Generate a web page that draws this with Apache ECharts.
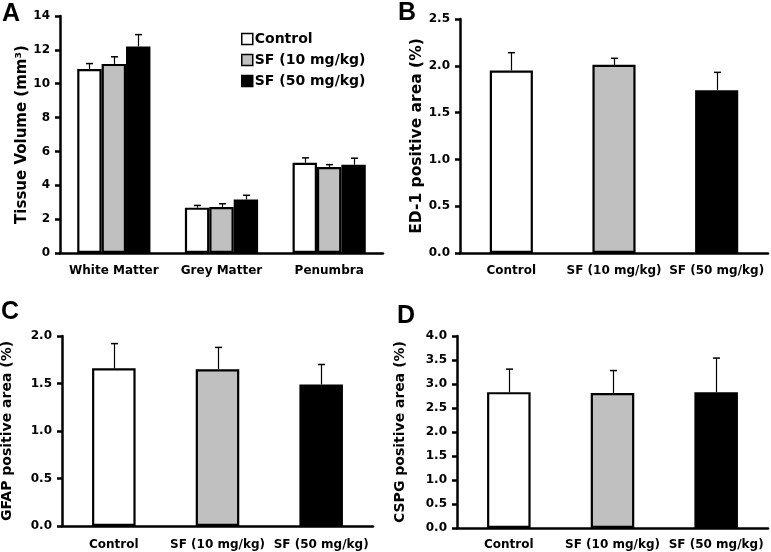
<!DOCTYPE html>
<html>
<head>
<meta charset="utf-8">
<script src="https://cdn.jsdelivr.net/npm/echarts@6/dist/echarts.min.js"></script>
<style>html,body{margin:0;padding:0;background:#fff}#c{width:771px;height:552px}</style>
</head>
<body>
<div id="c"></div>
<script>
// ---- data ----
var regionCats = ['White Matter', 'Grey Matter', 'Penumbra'];
var groupNames = ['Control', 'SF (10 mg/kg)', 'SF (50 mg/kg)'];
var volControl = [10.87, 2.68, 5.33];
var volSF10 = [11.17, 2.71, 5.08];
var volSF50 = [12.2, 3.16, 5.22];
var volControlErr = [0.32, 0.13, 0.29];
var volSF10Err = [0.42, 0.2, 0.14];
var volSF50Err = [0.7, 0.25, 0.38];
var ed1 = [1.95, 2.01, 1.74];
var ed1Err = [0.19, 0.07, 0.19];
var gfap = [1.66, 1.65, 1.49];
var gfapErr = [0.26, 0.23, 0.21];
var cspg = [2.83, 2.81, 2.83];
var cspgErr = [0.48, 0.47, 0.71];

var FONT = 'DejaVu Sans';
var palette = ['#ffffff', '#c0c0c0', '#000000'];
var grids = [
  {left: 60, top: 16, width: 323, height: 237, outerBoundsMode: 'none', containLabel: false},
  {left: 460, top: 19, width: 308, height: 234, outerBoundsMode: 'none', containLabel: false},
  {left: 62, top: 336, width: 311, height: 190, outerBoundsMode: 'none', containLabel: false},
  {left: 457, top: 336, width: 311, height: 192, outerBoundsMode: 'none', containLabel: false}
];
function yAxis(gi, max, interval, name, gap, nameSize) {
  return {
    type: 'value', gridIndex: gi, min: 0, max: max, interval: interval,
    name: name, nameLocation: 'middle', nameGap: gap,
    nameTextStyle: {fontFamily: FONT, fontWeight: 'bold', fontSize: nameSize, color: '#000'},
    axisLine: {show: true, lineStyle: {color: '#000', width: 2.5}},
    axisTick: {show: true, length: 5, lineStyle: {color: '#000', width: 2.5}},
    splitLine: {show: false},
    axisLabel: {margin: 10, fontFamily: FONT, fontWeight: 'bold', fontSize: 12, color: '#000',
      formatter: function (v) { return interval < 1 ? v.toFixed(1) : String(v); }}
  };
}
function xAxis(gi, cats, margin) {
  return {
    type: 'category', gridIndex: gi, data: cats,
    axisLine: {show: true, lineStyle: {color: '#000', width: 2.5}},
    axisTick: {show: false},
    axisLabel: {margin: margin, interval: 0, fontFamily: FONT, fontWeight: 'bold', fontSize: 12, color: '#000'}
  };
}
function errSeries(gi, vals, errs, nSeries, sIdx, catGap) {
  var data = vals.map(function (v, i) { return [i, v, errs[i]]; });
  return {
    type: 'custom', xAxisIndex: gi, yAxisIndex: gi, z: 10, silent: true,
    data: data,
    renderItem: function (params, api) {
      var ci = api.value(0), v = api.value(1), e = api.value(2);
      var base = api.coord([ci, v]);
      var top = api.coord([ci, v + e]);
      var band = api.size([1, 0])[0];
      var groupW = band * (1 - catGap);
      var bw = groupW / nSeries;
      var x = base[0] - groupW / 2 + bw * (sIdx + 0.5);
      x = Math.round(x) + 0.5;
      var cap = 3.5;
      return {
        type: 'group',
        children: [
          {type: 'line', shape: {x1: x, y1: base[1], x2: x, y2: top[1]}, style: {stroke: '#000', lineWidth: 1.2}},
          {type: 'line', shape: {x1: x - cap, y1: top[1], x2: x + cap, y2: top[1]}, style: {stroke: '#000', lineWidth: 1.5}}
        ]
      };
    }
  };
}
function barSeriesSingle(gi, vals) {
  return {
    type: 'bar', xAxisIndex: gi, yAxisIndex: gi, data: vals, barCategoryGap: '58%',
    itemStyle: {borderColor: '#000', borderWidth: 2.2,
      color: function (p) { return palette[p.dataIndex]; }}
  };
}
var aGap = 0.32;
var groupVals = [volControl, volSF10, volSF50];
var groupErrs = [volControlErr, volSF10Err, volSF50Err];
var series = [];
groupVals.forEach(function (vals, s) {
  series.push({
    type: 'bar', name: groupNames[s], xAxisIndex: 0, yAxisIndex: 0, data: vals,
    barGap: '0%', barCategoryGap: (aGap * 100) + '%',
    itemStyle: {color: palette[s], borderColor: '#000', borderWidth: 2.2}
  });
});
groupVals.forEach(function (vals, s) { series.push(errSeries(0, vals, groupErrs[s], 3, s, aGap)); });
series.push(barSeriesSingle(1, ed1));
series.push(errSeries(1, ed1, ed1Err, 1, 0, 0.58));
series.push(barSeriesSingle(2, gfap));
series.push(errSeries(2, gfap, gfapErr, 1, 0, 0.58));
series.push(barSeriesSingle(3, cspg));
series.push(errSeries(3, cspg, cspgErr, 1, 0, 0.58));

function letter(t, x, y) {
  return {type: 'text', left: x, top: y, style: {text: t, fontFamily: 'Liberation Sans', fontWeight: 'bold', fontSize: 25, fill: '#000'}};
}

var chart = echarts.init(document.getElementById('c'), null, {renderer: 'canvas'});
chart.setOption({
  animation: false,
  backgroundColor: '#fff',
  grid: grids,
  legend: {
    data: groupNames, orient: 'vertical', left: 236, top: 27, itemGap: 7,
    itemWidth: 11, itemHeight: 11, icon: 'rect',
    itemStyle: {borderColor: '#000', borderWidth: 1.5},
    textStyle: {fontFamily: FONT, fontWeight: 'bold', fontSize: 14, color: '#000', padding: [0, 0, 0, -3]}
  },
  xAxis: [
    xAxis(0, regionCats, 12),
    xAxis(1, groupNames, 12),
    xAxis(2, groupNames, 13),
    xAxis(3, groupNames, 11)
  ],
  yAxis: [
    yAxis(0, 14, 2, 'Tissue Volume (mm³)', 30, 15),
    yAxis(1, 2.5, 0.5, 'ED-1 positive area (%)', 35, 15.5),
    yAxis(2, 2.0, 0.5, 'GFAP positive area (%)', 48, 14),
    yAxis(3, 4.0, 0.5, 'CSPG positive area (%)', 50, 14)
  ],
  series: series,
  graphic: [
    letter('A', 2, 2),
    letter('B', 398, 1),
    letter('C', 1, 300),
    letter('D', 397, 304)
  ]
});
</script>
</body>
</html>
